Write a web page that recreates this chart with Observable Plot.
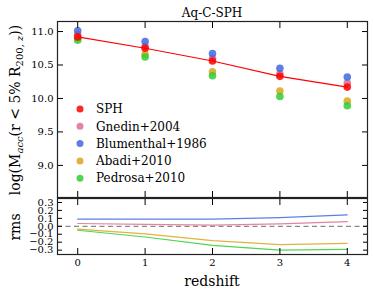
<!DOCTYPE html>
<html>
<head>
<meta charset="utf-8">
<script src="https://cdn.jsdelivr.net/npm/d3@7"></script>
<script src="https://cdn.jsdelivr.net/npm/@observablehq/plot@0.6"></script>
<style>
  html, body { margin: 0; padding: 0; background: #fff; }
  #wrap { position: relative; width: 374px; height: 298px; overflow: hidden; font-family: "DejaVu Serif", serif; }
  #wrap svg { position: absolute; left: 0; overflow: visible; }
</style>
</head>
<body>
<div id="wrap"></div>
<script>
// ---- data ----
const redshifts = [0, 1, 2, 3, 4];
const seriesNames = ["SPH", "Gnedin+2004", "Blumenthal+1986", "Abadi+2010", "Pedrosa+2010"];
const seriesColors = ["#ff0000", "#db7093", "#4169e1", "#daa520", "#32cd32"];
const sph        = [10.92, 10.75, 10.56, 10.33, 10.17];
const gnedin     = [10.95, 10.78, 10.60, 10.37, 10.23];
const blumenthal = [11.01, 10.85, 10.67, 10.45, 10.32];
const abadi      = [10.90, 10.66, 10.40, 10.11, 9.96];
const pedrosa    = [10.87, 10.62, 10.34, 10.03, 9.89];
const rmsGnedin     = [0.035, 0.025, 0.015, 0.03, 0.06];
const rmsBlumenthal = [0.09, 0.09, 0.09, 0.11, 0.145];
const rmsAbadi      = [-0.035, -0.095, -0.18, -0.23, -0.215];
const rmsPedrosa    = [-0.05, -0.135, -0.24, -0.30, -0.29];
const xTicks = [0, 1, 2, 3, 4];
const yTicksTop = [9.0, 9.5, 10.0, 10.5, 11.0];
const yTicksRms = [-0.3, -0.2, -0.1, 0.0, 0.1, 0.2, 0.3];

(function () {
// ---- tables ----
const massSeries = [sph, gnedin, blumenthal, abadi, pedrosa];
const massRows = [];
massSeries.forEach((vals, s) => vals.forEach((v, i) => massRows.push({z: redshifts[i], v, series: seriesNames[s]})));
const dotOrder = [1, 2, 3, 4, 0];
const rmsSeries = [null, rmsGnedin, rmsBlumenthal, rmsAbadi, rmsPedrosa];
const rmsRows = [];
rmsSeries.forEach((vals, s) => { if (vals) vals.forEach((v, i) => rmsRows.push({z: redshifts[i], v, series: seriesNames[s]})); });
const sphRows = sph.map((v, i) => ({z: redshifts[i], v}));

const colorScale = {domain: seriesNames, range: seriesColors};
const W = 374, ML = 57, MR = 7;
const fmt = d3.format(".1f");
const fmtRms = d => d3.format(".1f")(Math.abs(d) < 1e-9 ? 0 : d);

// ---- top panel ----
const topPlot = Plot.plot({
  width: W, height: 198,
  marginLeft: ML, marginRight: MR, marginTop: 21, marginBottom: 1,
  style: {fontFamily: "DejaVu Serif", fontSize: "10px", color: "#000", background: "transparent", overflow: "visible"},
  x: {domain: [-0.3, 4.3], label: null},
  y: {domain: [8.52, 11.15], label: null},
  color: colorScale,
  marks: [
    ...dotOrder.map(s => Plot.dot(massRows.filter(d => d.series === seriesNames[s]), {x: "z", y: "v", fill: "series", r: 3.8, fillOpacity: 0.85})),
    Plot.line(sphRows, {x: "z", y: "v", stroke: seriesColors[0], strokeWidth: 1.2}),
    Plot.axisX({anchor: "bottom", ticks: xTicks, tickSize: -6, tickFormat: () => "", label: null}),
    Plot.axisX({anchor: "top", ticks: xTicks, tickSize: -6, tickFormat: () => "", label: null}),
    Plot.axisY({anchor: "left", ticks: yTicksTop, tickSize: -6, tickFormat: () => "", label: null}),
    Plot.axisY({anchor: "right", ticks: yTicksTop, tickSize: -6, tickFormat: () => "", label: null}),
    Plot.axisY({anchor: "left", ticks: yTicksTop, tickSize: 0, tickPadding: 4, tickFormat: fmt, label: null}),
    Plot.frame({stroke: "#222", strokeWidth: 1.2})
  ]
});
topPlot.style.top = "0px";

// ---- bottom panel ----
const botPlot = Plot.plot({
  width: W, height: 101,
  marginLeft: ML, marginRight: MR, marginTop: 1, marginBottom: 44,
  style: {fontFamily: "DejaVu Serif", fontSize: "10px", color: "#000", background: "transparent", overflow: "visible"},
  x: {domain: [-0.3, 4.3], label: null},
  y: {domain: [-0.355, 0.35], label: null},
  color: colorScale,
  marks: [
    Plot.ruleY([0], {stroke: "#888", strokeWidth: 1.2, strokeDasharray: "5,3.5"}),
    Plot.line(rmsRows, {x: "z", y: "v", z: "series", stroke: "series", strokeWidth: 1.2, strokeOpacity: 0.85}),
    Plot.axisX({anchor: "bottom", ticks: xTicks, tickSize: -6, tickFormat: () => "", label: null}),
    Plot.axisX({anchor: "top", ticks: xTicks, tickSize: -6, tickFormat: () => "", label: null}),
    Plot.axisY({anchor: "left", ticks: yTicksRms, tickSize: -5, tickFormat: () => "", label: null}),
    Plot.axisY({anchor: "right", ticks: yTicksRms, tickSize: -5, tickFormat: () => "", label: null}),
    Plot.axisX({anchor: "bottom", ticks: xTicks, tickSize: 0, tickPadding: 4, tickFormat: d => String(d), label: null}),
    Plot.axisY({anchor: "left", ticks: yTicksRms, tickSize: 0, tickPadding: 4, tickFormat: fmtRms, label: null}),
    Plot.frame({stroke: "#222", strokeWidth: 1.2})
  ]
});
botPlot.style.top = "197px";

const wrap = document.getElementById("wrap");
wrap.appendChild(topPlot);
wrap.appendChild(botPlot);

// ---- texts & legend ----
const ts = d3.select(topPlot);
ts.append("text").attr("x", 212).attr("y", 17).attr("text-anchor", "middle")
  .attr("font-family", "DejaVu Serif").attr("font-size", 12).attr("fill", "#000").text("Aq-C-SPH");

const yl = ts.append("text").attr("transform", "translate(20,110) rotate(-90)").attr("text-anchor", "middle")
  .attr("font-family", "DejaVu Serif").attr("font-size", 14).attr("fill", "#000");
yl.append("tspan").text("log(M");
yl.append("tspan").attr("font-size", 10).attr("font-style", "italic").attr("dy", 3).text("acc");
yl.append("tspan").attr("dy", -3).text("(r < 5% R");
yl.append("tspan").attr("font-size", 10).attr("dy", 3).text("200, ");
yl.append("tspan").attr("font-size", 10).attr("font-style", "italic").text("z");
yl.append("tspan").attr("dy", -3).text("))");

const leg = ts.append("g").attr("font-family", "DejaVu Serif").attr("font-size", 12).attr("text-anchor", "start");
seriesNames.forEach((name, i) => {
  const y = 109 + i * 17.3;
  leg.append("circle").attr("cx", 80).attr("cy", y).attr("r", 3.5).attr("fill", seriesColors[i]).attr("fill-opacity", 0.85);
  leg.append("text").attr("x", 96).attr("y", y).attr("dy", "0.35em").attr("text-anchor", "start").attr("fill", "#000").text(name);
});

const bs = d3.select(botPlot);
bs.append("text").attr("transform", "translate(20,30) rotate(-90)").attr("text-anchor", "middle")
  .attr("font-family", "DejaVu Serif").attr("font-size", 14).attr("fill", "#000").text("rms");
bs.append("text").attr("x", 212).attr("y", 89).attr("text-anchor", "middle")
  .attr("font-family", "DejaVu Serif").attr("font-size", 14).attr("fill", "#000").text("redshift");
})();
</script>
</body>
</html>
